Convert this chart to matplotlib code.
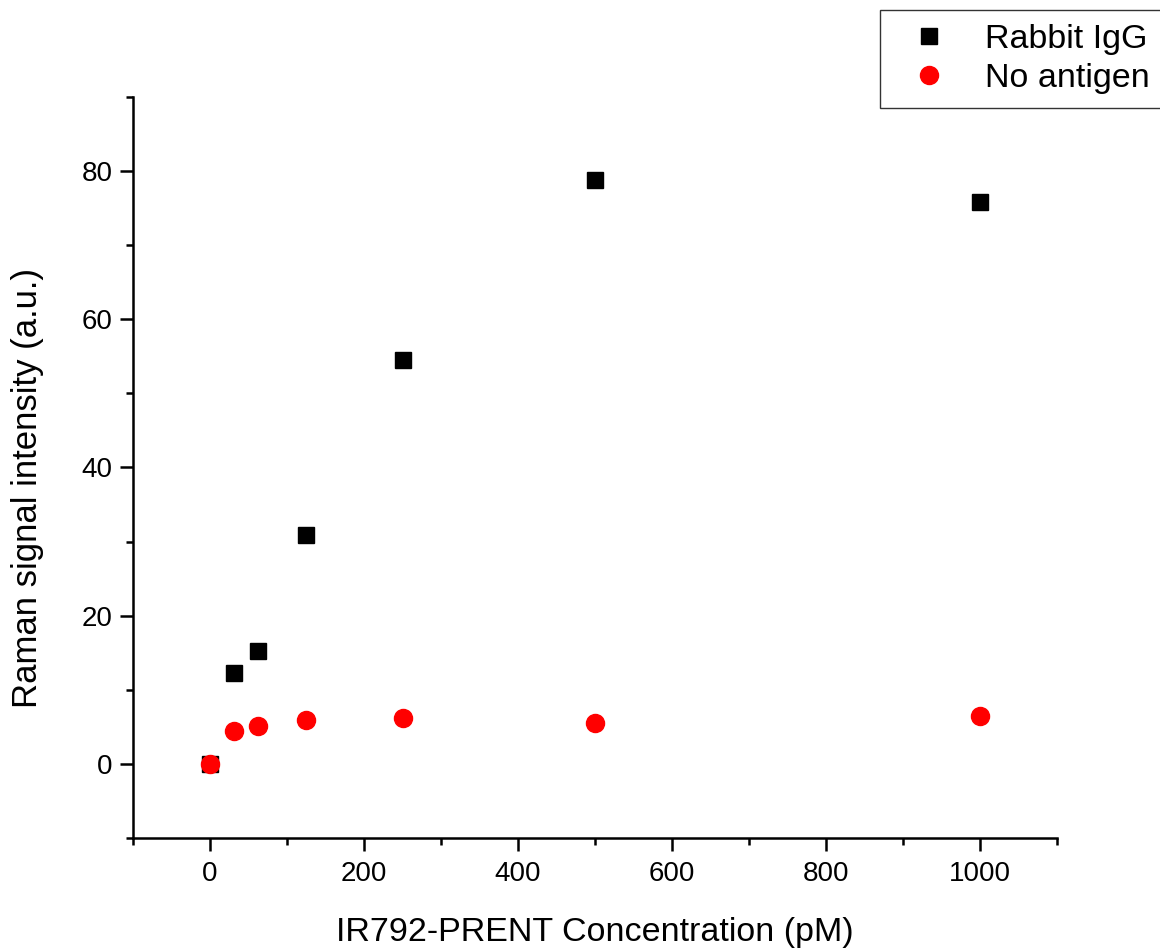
import matplotlib
matplotlib.use("Agg")
import matplotlib.pyplot as plt
from matplotlib.ticker import MultipleLocator

plt.rcParams['font.family'] = ['Liberation Sans', 'DejaVu Sans']

concentration = [0, 31.25, 62.5, 125, 250, 500, 1000]
rabbit_igg = [0.0, 12.2, 15.3, 30.9, 54.5, 78.8, 75.8]
no_antigen = [0.0, 4.4, 5.1, 5.9, 6.2, 5.5, 6.5]

fig = plt.figure(figsize=(11.6, 9.51), dpi=100)
ax = fig.add_axes([133/1160, 1-838/951, (1057-133)/1160, (838-97)/951])

ax.plot(concentration, rabbit_igg, linestyle='none', marker='s', markersize=11.5,
        color='black', label='Rabbit IgG', zorder=3)
ax.plot(concentration, no_antigen, linestyle='none', marker='o', markersize=13,
        color='#ff0000', label='No antigen', zorder=4)

ax.set_xlim(-100, 1100)
ax.set_ylim(-10, 90)
ax.xaxis.set_major_locator(MultipleLocator(200))
ax.xaxis.set_minor_locator(MultipleLocator(100))
ax.yaxis.set_major_locator(MultipleLocator(20))
ax.yaxis.set_minor_locator(MultipleLocator(10))

for side in ('top', 'right'):
    ax.spines[side].set_visible(False)
for side in ('left', 'bottom'):
    ax.spines[side].set_linewidth(1.8)

ax.tick_params(which='major', direction='out', length=9.5, width=1.8, labelsize=20)
ax.tick_params(axis='x', which='major', pad=7)
ax.tick_params(axis='y', which='major', pad=5)
ax.tick_params(which='minor', direction='out', length=5, width=1.8)

ax.set_xlabel('IR792-PRENT Concentration (pM)', fontsize=24.5, va='center')
ax.xaxis.set_label_coords(0.5, (838-932)/741)
ax.set_ylabel('Raman signal intensity (a.u.)', fontsize=25, va='center')
ax.yaxis.set_label_coords((28-133)/924, (838-488)/741)

leg = fig.legend(loc='upper left', bbox_to_anchor=(880/1160, 1-10/951),
                 fontsize=24.5, frameon=True, fancybox=False, borderpad=0.4,
                 borderaxespad=0, handletextpad=0.6, labelspacing=0.25,
                 handlelength=2.1)
leg.get_frame().set_edgecolor('black')
leg.get_frame().set_linewidth(1)

fig.savefig('out.png', dpi=100)
